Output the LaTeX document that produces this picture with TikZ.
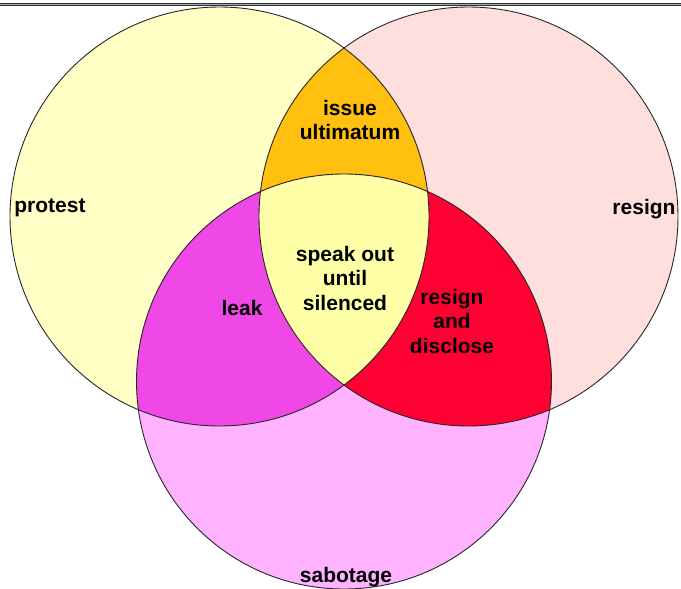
\documentclass[tikz,border=0pt]{standalone}
\usepackage{fontspec}
\setmainfont{Liberation Sans}
\definecolor{lfill}{HTML}{FFFFC6}
\definecolor{rfill}{HTML}{FFDEDE}
\definecolor{bfill}{HTML}{FFB2FF}
\definecolor{lrfill}{HTML}{FFC010}
\definecolor{lbfill}{HTML}{F048E6}
\definecolor{rbfill}{HTML}{FF0032}
\definecolor{allfill}{HTML}{FFFFA8}
\begin{document}
\begin{tikzpicture}[x=1pt,y=-1pt,
  lab/.style={font=\fontsize{21}{24.5}\selectfont\bfseries, align=center, inner sep=0pt},
  rim/.style={draw=black!85, line width=0.9pt}]
\useasboundingbox (0,0) rectangle (681,589);
\coordinate (L) at (219.5,216.5);
\coordinate (R) at (468.5,216.5);
\coordinate (B) at (344,381.5);
\def\rL{209.5pt}
\def\rB{207.5pt}
% single circles
\fill[lfill] (L) circle[radius=\rL];
\fill[rfill] (R) circle[radius=\rL];
\fill[bfill] (B) circle[radius=\rB];
% pairwise intersections
\begin{scope}
  \clip (L) circle[radius=\rL];
  \fill[lrfill] (R) circle[radius=\rL];
  \fill[lbfill] (B) circle[radius=\rB];
\end{scope}
\begin{scope}
  \clip (R) circle[radius=\rL];
  \fill[rbfill] (B) circle[radius=\rB];
\end{scope}
% triple intersection
\begin{scope}
  \clip (L) circle[radius=\rL];
  \clip (R) circle[radius=\rL];
  \fill[allfill] (B) circle[radius=\rB];
\end{scope}
% outlines
\draw[rim] (L) circle[radius=\rL];
\draw[rim] (R) circle[radius=\rL];
\draw[rim] (B) circle[radius=\rB];
% top rule
\coordinate (tl) at (0,4.5);
\coordinate (tr) at (681,4.5);
\draw[line width=3pt, black!80] (tl) -- (tr);
\draw[line width=1pt, black!35] (tl) -- (tr);
% labels
\node[lab] (protest) at (50,208) {protest};
\node[lab] (resign) at (644,209) {resign};
\node[lab] (sabotage) at (346,577) {sabotage};
\node[lab] (issue) at (350,120) {issue\\ultimatum};
\node[lab] (speak) at (345,278) {speak out\\until\\silenced};
\node[lab] (leak) at (242,308) {leak};
\node[lab] (disclose) at (452,321) {resign\\and\\disclose};
\end{tikzpicture}
\end{document}
